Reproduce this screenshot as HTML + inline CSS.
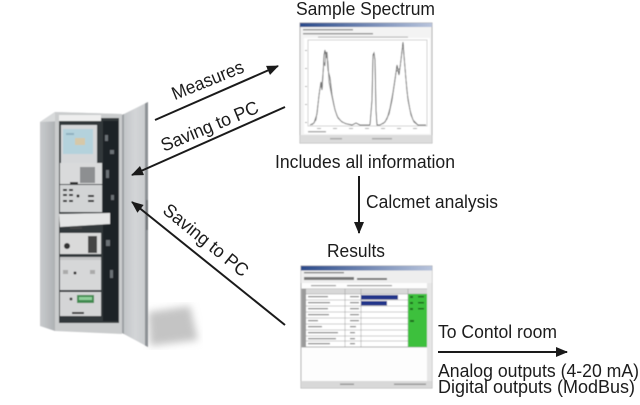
<!DOCTYPE html>
<html><head><meta charset="utf-8"><style>
html,body{margin:0;padding:0;background:#fff;width:640px;height:405px;overflow:hidden}
svg{display:block}
text{font-family:"Liberation Sans",Arial,sans-serif;fill:#1c1c1c}
</style></head><body>
<svg width="640" height="405" viewBox="0 0 640 405" xmlns="http://www.w3.org/2000/svg">
<defs>
<marker id="ah" markerWidth="12" markerHeight="10" refX="11" refY="5" orient="auto" markerUnits="userSpaceOnUse">
<path d="M0,0 L12,5 L0,10 Z" fill="#1a1a1a"/>
</marker>
<linearGradient id="tb" x1="0" x2="1" y1="0" y2="0"><stop offset="0" stop-color="#2a4a8a"/><stop offset="1" stop-color="#b8c4dc"/></linearGradient>
<linearGradient id="door" x1="0" x2="1" y1="0" y2="0"><stop offset="0" stop-color="#bfc2c5"/><stop offset="0.5" stop-color="#d3d5d7"/><stop offset="1" stop-color="#c7cacc"/></linearGradient>
<linearGradient id="side" x1="0" x2="1" y1="0" y2="0"><stop offset="0" stop-color="#c9cbcd"/><stop offset="1" stop-color="#aeb1b4"/></linearGradient>
<filter id="blur"><feGaussianBlur stdDeviation="4"/></filter>
<filter id="soft"><feGaussianBlur stdDeviation="0.4"/></filter>
</defs>

<!-- shadow of cabinet -->
<polygon points="148,312 190,306 198,340 150,346" fill="#c4c4c4" filter="url(#blur)"/>

<!-- cabinet -->
<g filter="url(#soft)">
<polygon points="40,122 55,112 55,331 40,326" fill="url(#side)"/>
<polygon points="40,122 55,112 122,114 110,119" fill="#d8dadb"/>
<polygon points="55,112 122,114 122,334 55,331" fill="#cacccd"/>
<rect x="59" y="118" width="60" height="205" fill="#33373a"/>
<rect x="59" y="115" width="42" height="6" fill="#eeeeee"/>
<rect x="103" y="121" width="15" height="200" fill="#1e2326"/>
<g fill="#6a7075"><rect x="105" y="135" width="3" height="6"/><rect x="110" y="150" width="4" height="4"/><rect x="106" y="170" width="3" height="8"/><rect x="111" y="195" width="3" height="5"/><rect x="106" y="240" width="4" height="6"/><rect x="110" y="270" width="3" height="8"/></g>
<!-- monitor -->
<rect x="61" y="125" width="36" height="38" fill="#d5d7d9"/>
<rect x="63" y="129" width="30" height="25" fill="#b4d2dc"/>
<rect x="75" y="138" width="10" height="7" fill="#d6c8a8"/>
<rect x="66" y="133" width="8" height="2" fill="#8fb0c0"/>
<!-- panel 1 -->
<rect x="60" y="163" width="42" height="21" fill="#d9dadb"/>
<rect x="80" y="167" width="15" height="16" fill="#8d8f91"/>
<rect x="70" y="182" width="8" height="2" fill="#333"/>
<!-- panel 2 -->
<rect x="60" y="185" width="42" height="27" fill="#d2d4d5"/>
<g fill="#2a2a2a"><rect x="63" y="189" width="4" height="2"/><rect x="69" y="189" width="4" height="2"/><rect x="63" y="194" width="4" height="2"/><rect x="69" y="194" width="4" height="2"/><rect x="63" y="200" width="4" height="2"/><rect x="69" y="200" width="4" height="2"/><circle cx="78" cy="196" r="1.5"/><rect x="88" y="195" width="6" height="2"/><rect x="88" y="200" width="6" height="2"/></g>
<!-- keyboard tray -->
<polygon points="59,214 110,213 110,224 60,227" fill="#e4e5e5"/>
<rect x="70" y="227" width="12" height="2" fill="#444"/>
<!-- unit 3 -->
<rect x="60" y="233" width="41" height="21" fill="#dadada"/>
<circle cx="67" cy="246" r="3" fill="#333"/>
<rect x="88" y="236" width="9" height="17" fill="#444"/>
<!-- unit 4 -->
<rect x="60" y="257" width="41" height="33" fill="#d6d7d8"/>
<rect x="60" y="257" width="41" height="3" fill="#c4c5c6"/>
<circle cx="75" cy="273" r="1.5" fill="#333"/>
<rect x="63" y="270" width="5" height="4" fill="#aaa"/><rect x="90" y="270" width="5" height="4" fill="#aaa"/>
<!-- unit 5 -->
<rect x="60" y="292" width="41" height="24" fill="#d4d5d6"/>
<rect x="77" y="295" width="17" height="8" fill="#3f8a50"/>
<rect x="79" y="297" width="13" height="3" fill="#8fd09a"/>
<circle cx="71" cy="299" r="1.5" fill="#444"/>
<rect x="72" y="312" width="12" height="2" fill="#333"/>
<!-- door -->
<polygon points="122,115 148,102 148,347 122,333" fill="url(#door)"/>
<polygon points="145,103.5 148,102 148,347 145,345.5" fill="#8d9195"/>
<polygon points="122,115 124,114 124,334 122,333" fill="#9da1a4"/>
<rect x="146" y="200" width="2" height="30" fill="#6e7276"/>
</g>

<!-- arrows -->
<line x1="155" y1="120" x2="278" y2="66" stroke="#1a1a1a" stroke-width="2" marker-end="url(#ah)"/>
<line x1="285" y1="107" x2="132" y2="175" stroke="#1a1a1a" stroke-width="2" marker-end="url(#ah)"/>
<line x1="285" y1="325" x2="132" y2="202" stroke="#1a1a1a" stroke-width="2" marker-end="url(#ah)"/>
<line x1="359" y1="176" x2="359" y2="233" stroke="#1a1a1a" stroke-width="2" marker-end="url(#ah)"/>
<line x1="438" y1="352" x2="567" y2="352" stroke="#1a1a1a" stroke-width="2" marker-end="url(#ah)"/>

<!-- rotated labels -->
<text x="210" y="86" font-size="18.5" text-anchor="middle" transform="rotate(-22 210 86)" textLength="76" lengthAdjust="spacingAndGlyphs">Measures</text>
<text x="212" y="132" font-size="18.5" text-anchor="middle" transform="rotate(-22.5 212 132)" textLength="104" lengthAdjust="spacingAndGlyphs">Saving to PC</text>
<text x="202" y="245" font-size="18.5" text-anchor="middle" transform="rotate(39 202 245)" textLength="104" lengthAdjust="spacingAndGlyphs">Saving to PC</text>

<!-- labels -->
<text x="296" y="15" font-size="18.5" textLength="139" lengthAdjust="spacingAndGlyphs">Sample Spectrum</text>
<text x="275" y="168" font-size="18.5" textLength="180" lengthAdjust="spacingAndGlyphs">Includes all information</text>
<text x="366" y="208" font-size="18.5" textLength="132" lengthAdjust="spacingAndGlyphs">Calcmet analysis</text>
<text x="327" y="257" font-size="18.5" textLength="58" lengthAdjust="spacingAndGlyphs">Results</text>
<text x="438" y="338" font-size="18.5" textLength="119" lengthAdjust="spacingAndGlyphs">To Contol room</text>
<text x="438" y="377" font-size="18.5" textLength="201" lengthAdjust="spacingAndGlyphs">Analog outputs (4-20 mA)</text>
<text x="438" y="393" font-size="18.5" textLength="197" lengthAdjust="spacingAndGlyphs">Digital outputs (ModBus)</text>

<!-- spectrum window -->
<g filter="url(#soft)">
<rect x="300" y="23" width="132" height="120" fill="#f3f3f3" stroke="#b0b0b0" stroke-width="1"/>
<rect x="300" y="23" width="132" height="4" fill="url(#tb)"/>
<g fill="#999"><rect x="303" y="29" width="50" height="1.5"/><rect x="303" y="33" width="70" height="1.5"/><rect x="318" y="36.5" width="90" height="1.2" fill="#bbb"/></g>
<rect x="304" y="38" width="126" height="96" fill="#fff"/>
<rect x="308" y="40" width="119" height="86" fill="none" stroke="#c8c8c8" stroke-width="0.8"/>
<g fill="#aaa"><rect x="305" y="50" width="2" height="1"/><rect x="305" y="68" width="2" height="1"/><rect x="305" y="86" width="2" height="1"/><rect x="305" y="104" width="2" height="1"/><rect x="305" y="122" width="2" height="1"/>
<rect x="317" y="128" width="4" height="1"/><rect x="333" y="128" width="4" height="1"/><rect x="349" y="128" width="4" height="1"/><rect x="365" y="128" width="4" height="1"/><rect x="381" y="128" width="4" height="1"/><rect x="397" y="128" width="4" height="1"/><rect x="413" y="128" width="4" height="1"/>
<rect x="308" y="131" width="18" height="1.5"/></g>
<g fill="none" stroke="#555" stroke-width="0.9">
<polyline points="310,125 314,123 317,114 319,95 321,82 322,90 323,75 324,55 325,50 326,58 327,52 328,70 330,78 332,95 335,110 338,118 342,122 347,124 352,125 356,123 360,125 370,125"/>
<polyline points="312,125 316,120 318,104 320,88 322,84 324,62 325,66 326,52 328,62 329,82 331,92 334,106 337,116 341,121 346,124" stroke="#888"/>
<polyline points="370,125 372,100 373,55 374,53 375,60 376,110 377,125 380,125"/>
<polyline points="380,125 385,122 389,114 392,100 395,80 397,65 399,75 401,60 403,42 404,55 406,80 408,100 411,115 414,122 418,125 426,125"/>
<polyline points="383,124 387,119 390,108 393,92 396,72 398,70 400,68 402,50 403,46 405,68 407,92 410,110 413,120 417,124" stroke="#888"/>
</g>
<rect x="300" y="135" width="132" height="8" fill="#dcdcdc"/>
<g fill="#aaa"><rect x="330" y="138" width="12" height="1.5"/><rect x="372" y="138" width="20" height="1.5"/></g>
</g>

<!-- results window -->
<g filter="url(#soft)">
<rect x="301" y="266" width="131" height="122" fill="#fdfdfd" stroke="#b0b0b0" stroke-width="1"/>
<rect x="301" y="266" width="131" height="4.5" fill="url(#tb)"/>
<rect x="301" y="270.5" width="131" height="12.5" fill="#eeeeee"/>
<g fill="#777"><rect x="304" y="272" width="40" height="1.3"/><rect x="304" y="277" width="50" height="3"/><rect x="357" y="278" width="30" height="2"/></g>
<g fill="#999"><rect x="311" y="285" width="25" height="1.2"/><rect x="347" y="285" width="45" height="1.2"/></g>
<rect x="302" y="289" width="125" height="58" fill="#fff" stroke="#8a8a8a" stroke-width="0.7"/>
<rect x="302" y="289" width="125" height="5" fill="#d8d8d8"/>
<g stroke="#9a9a9a" stroke-width="0.5">
<line x1="302" y1="294" x2="427" y2="294"/><line x1="302" y1="300" x2="427" y2="300"/><line x1="302" y1="306" x2="427" y2="306"/><line x1="302" y1="312" x2="427" y2="312"/><line x1="302" y1="318" x2="427" y2="318"/><line x1="302" y1="324" x2="427" y2="324"/><line x1="302" y1="330" x2="427" y2="330"/><line x1="302" y1="336" x2="427" y2="336"/><line x1="302" y1="341" x2="427" y2="341"/>
<line x1="345" y1="289" x2="345" y2="347"/><line x1="361" y1="289" x2="361" y2="347"/><line x1="408" y1="289" x2="408" y2="347"/>
</g>
<rect x="302" y="289" width="4" height="58" fill="#9a9a9a"/>
<g fill="#888"><rect x="308" y="296" width="20" height="1.3"/><rect x="308" y="302" width="22" height="1.3"/><rect x="308" y="308" width="20" height="1.3"/><rect x="308" y="314" width="21" height="1.3"/><rect x="308" y="320" width="10" height="1.3"/><rect x="308" y="326" width="14" height="1.3"/><rect x="308" y="332" width="30" height="1.3"/><rect x="308" y="338" width="28" height="1.3"/><rect x="308" y="343" width="22" height="1.3"/>
<rect x="350" y="296" width="9" height="1.3"/><rect x="350" y="302" width="9" height="1.3"/><rect x="350" y="308" width="9" height="1.3"/><rect x="350" y="314" width="9" height="1.3"/><rect x="350" y="320" width="9" height="1.3"/><rect x="350" y="326" width="6" height="1.3"/><rect x="350" y="332" width="5" height="1.3"/><rect x="350" y="338" width="5" height="1.3"/><rect x="350" y="343" width="5" height="1.3"/></g>
<rect x="361" y="295" width="37" height="4.5" fill="#23358a"/>
<rect x="361" y="301" width="26" height="4.5" fill="#23358a"/>
<rect x="408" y="294" width="19" height="53" fill="#3cc03c"/>
<g fill="#1d6a1d"><rect x="410" y="296" width="3" height="2"/><rect x="418" y="296" width="6" height="1.5"/><rect x="410" y="302" width="3" height="2"/><rect x="418" y="302" width="6" height="1.5"/><rect x="410" y="308" width="3" height="2"/><rect x="418" y="308" width="6" height="1.5"/><rect x="410" y="320" width="4" height="2"/></g>
<rect x="427" y="283" width="5" height="98" fill="#e6e6e6"/>
<rect x="301" y="381" width="131" height="7" fill="#d8d8d8"/>
<g fill="#999"><rect x="340" y="383.5" width="14" height="1.5"/><rect x="394" y="383.5" width="32" height="1.5"/></g>
</g>
</svg>
</body></html>
